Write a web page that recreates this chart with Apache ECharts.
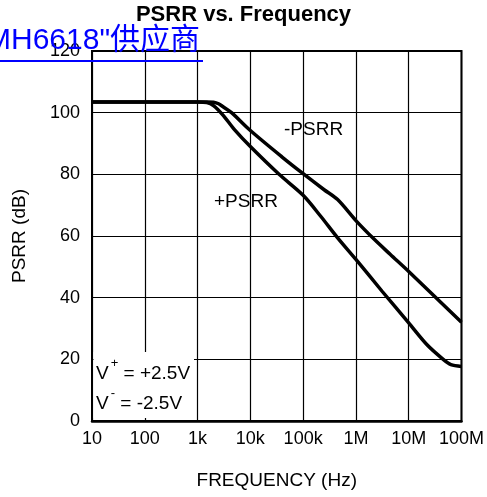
<!DOCTYPE html>
<html>
<head>
<meta charset="utf-8">
<script src="https://cdn.jsdelivr.net/npm/echarts@6/dist/echarts.min.js"></script>
<style>
html,body{margin:0;padding:0;background:#fff;}
#chart{width:487px;height:497px;}
</style>
</head>
<body>
<div id="chart"></div>
<script>
// ---- data ----
const xTickLabels = ['10', '100', '1k', '10k', '100k', '1M', '10M', '100M'];
const yTickLabels = ['0', '20', '40', '60', '80', '100', '120'];

const freqPlus = [10, 1000, 1500, 2000, 3000, 5000, 10000, 35000, 100000, 215000, 450000, 1e6, 3.16e6, 1e7, 2.2e7, 4.5e7, 6.3e7, 1e8];
const psrrPlus = [103.5, 103.5, 103.3, 102.3, 99.3, 94.5, 89, 80, 73.2, 66.4, 59.4, 52.4, 42, 31.8, 24.8, 20, 18.3, 17.7];

const freqMinus = [10, 1500, 2000, 2500, 3000, 4400, 10000, 40000, 100000, 250000, 450000, 1e6, 2.2e6, 4.5e6, 1e7, 1e8];
const psrrMinus = [103.5, 103.5, 103.4, 102.9, 102, 100, 94.2, 85.6, 80.2, 75, 71.8, 65, 59, 54, 48.5, 32];

const titleText = 'PSRR vs. Frequency';
const xName = 'FREQUENCY (Hz)';
const yName = 'PSRR (dB)';
const labelPlus = '+PSRR';
const labelMinus = '-PSRR';
const linkText = 'MH6618"供应商';

const FONT = '"Liberation Sans", Arial, Helvetica, "Noto Sans CJK SC", sans-serif';

function pairs(xs, ys) { return xs.map((x, i) => [x, ys[i]]); }

const chart = echarts.init(document.getElementById('chart'), null, { renderer: 'canvas' });

const supStyle = { fontSize: 13, fontFamily: FONT, color: '#000', padding: [0, 0, 20, 2] };
const normStyle = { fontSize: 19, fontFamily: FONT, color: '#000' };

const option = {
  animation: false,
  backgroundColor: '#fff',
  title: {
    text: titleText, left: 'center', top: 4, padding: 0,
    textStyle: { fontFamily: FONT, fontWeight: 'bold', fontSize: 22, color: '#000' }
  },
  grid: { left: 92, right: 24, top: 51, bottom: 76, show: true, borderColor: '#000', borderWidth: 2, containLabel: false },
  xAxis: {
    type: 'log', logBase: 10, min: 10, max: 1e8,
    name: xName, nameLocation: 'middle', nameGap: 50,
    nameTextStyle: { fontSize: 19, color: '#000', fontFamily: FONT },
    axisLine: { show: true, lineStyle: { color: '#000', width: 2.5 } },
    axisTick: { show: false },
    minorTick: { show: false }, minorSplitLine: { show: false },
    axisLabel: {
      margin: 9, fontSize: 18, color: '#000', fontFamily: FONT,
      formatter: v => xTickLabels[Math.round(Math.log10(v)) - 1]
    },
    splitLine: { show: true, lineStyle: { color: '#000', width: 1.2 } }
  },
  yAxis: {
    type: 'value', min: 0, max: 120, interval: 20,
    name: yName, nameLocation: 'middle', nameGap: 63, nameRotate: 90,
    nameTextStyle: { fontSize: 19, color: '#000', fontFamily: FONT },
    axisLine: { show: false },
    axisTick: { show: false },
    axisLabel: {
      margin: 12, fontSize: 18, color: '#000', fontFamily: FONT,
      formatter: v => yTickLabels[Math.round(v / 20)]
    },
    splitLine: { show: true, lineStyle: { color: '#000', width: 1.2 } }
  },
  series: [
    {
      name: labelPlus, type: 'line', data: pairs(freqPlus, psrrPlus),
      showSymbol: false, smooth: 0.3,
      lineStyle: { color: '#000', width: 3.5 }, z: 5
    },
    {
      name: labelMinus, type: 'line', data: pairs(freqMinus, psrrMinus),
      showSymbol: false, smooth: 0.3,
      lineStyle: { color: '#000', width: 3.5 }, z: 5
    }
  ],
  graphic: [
    { type: 'rect', z: 50, shape: { x: 93.5, y: 352, width: 100.5, height: 66 }, style: { fill: '#fff' } },
    {
      type: 'text', z: 60, x: 96, y: 373.4,
      style: {
        text: '{a|V}{s|+}{a| = +2.5V}', verticalAlign: 'middle', align: 'left',
        rich: { a: normStyle, s: supStyle }
      }
    },
    {
      type: 'text', z: 60, x: 96, y: 403.4,
      style: {
        text: '{a|V}{s|-}{a| = -2.5V}', verticalAlign: 'middle', align: 'left',
        rich: { a: normStyle, s: supStyle }
      }
    },
    {
      type: 'text', z: 60, x: 284, y: 130,
      style: { text: labelMinus, font: '19px ' + FONT, fill: '#000', verticalAlign: 'middle', align: 'left' }
    },
    {
      type: 'text', z: 60, x: 214, y: 201.7,
      style: { text: labelPlus, font: '19px ' + FONT, fill: '#000', verticalAlign: 'middle', align: 'left' }
    },
    {
      type: 'text', z: 100, x: -14, y: 41,
      style: { text: linkText, font: '30px ' + FONT, fill: '#0000ff', verticalAlign: 'middle', align: 'left' }
    },
    {
      type: 'line', z: 100, shape: { x1: 0, y1: 61, x2: 203, y2: 61 },
      style: { stroke: '#0000ff', lineWidth: 2 }
    }
  ]
};
chart.setOption(option);
</script>
</body>
</html>
